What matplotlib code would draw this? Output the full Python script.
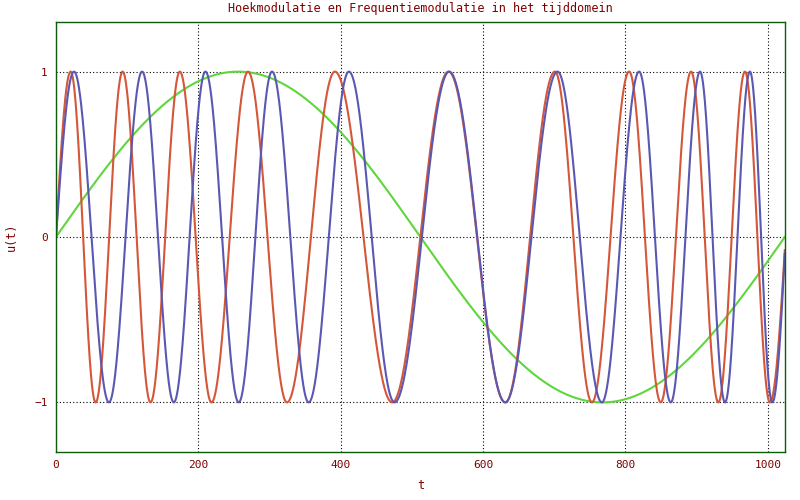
import numpy as np
import matplotlib.pyplot as plt

# extreme punten (t, u)
green_t = [0, 256, 512, 768, 1024]
green_u = [0, 1, 0, -1, 0]

red_t = [0, 20.6, 55.7, 93.6, 132.8, 174, 218.4, 269.8, 324.5, 391.8, 472.3,
         551.5, 631.3, 701, 753, 805.3, 849.7, 892.3, 930.6, 968, 1003, 1024]
red_u = [0, 1, -1, 1, -1, 1, -1, 1, -1, 1, -1,
         1, -1, 1, -1, 1, -1, 1, -1, 1, -1, -0.08]

blue_t = [0, 25.3, 74.4, 121, 165.5, 210, 256.7, 303.5, 355, 411.5, 475.6,
          552.5, 631.3, 704.7, 767, 819.3, 863.8, 904.9, 940, 975, 1006.4, 1024]
blue_u = [0, 1, -1, 1, -1, 1, -1, 1, -1, 1, -1,
          1, -1, 1, -1, 1, -1, 1, -1, 1, -1, -0.1]

x_ticks = [0, 200, 400, 600, 800, 1000]
y_ticks = [-1, 0, 1]

txt_color = '#800000'
frame_color = '#0b5d0b'


def phases(t, u):
    ph = [np.arcsin(u[0])]
    for v in u[1:]:
        a = np.arcsin(np.clip(v, -1, 1))
        cands = []
        for base in (a, np.pi - a):
            n = np.ceil((ph[-1] + 1e-6 - base) / (2 * np.pi))
            cands.append(base + 2 * np.pi * n)
        ph.append(min(cands))
    return np.array(ph)


def curve(t, u, n=3000):
    tt = np.linspace(t[0], t[-1], n)
    return tt, np.sin(np.interp(tt, t, phases(t, u)))


plt.rcParams['font.family'] = ['DejaVu Sans Mono']

fig = plt.figure(figsize=(8, 5), dpi=100)
ax = fig.add_axes([0.07, 0.096, 0.911, 0.86])

for t, u, c in [(green_t, green_u, '#5fd63c'),
                (red_t, red_u, '#d4573a'),
                (blue_t, blue_u, '#5b58b2')]:
    tt, yy = curve(t, u)
    ax.plot(tt, yy, color=c, linewidth=1.5)

ax.set_xlim(0, 1024)
ax.set_ylim(-1.3, 1.3)
ax.set_xticks(x_ticks)
ax.set_yticks(y_ticks)
ax.grid(True, color='black', linestyle=(0, (1, 2)), linewidth=0.8)
ax.tick_params(length=0, labelsize=8, labelcolor=txt_color, pad=6)
for s in ax.spines.values():
    s.set_color(frame_color)
    s.set_linewidth(1.0)

ax.set_title('Hoekmodulatie en Frequentiemodulatie in het tijddomein',
             fontsize=8.5, color=txt_color, pad=7)
ax.set_xlabel('t', fontsize=8.5, color=txt_color, labelpad=6)
ax.set_ylabel('u(t)', fontsize=8.5, color=txt_color, labelpad=12)

fig.savefig('out.png', dpi=100)
